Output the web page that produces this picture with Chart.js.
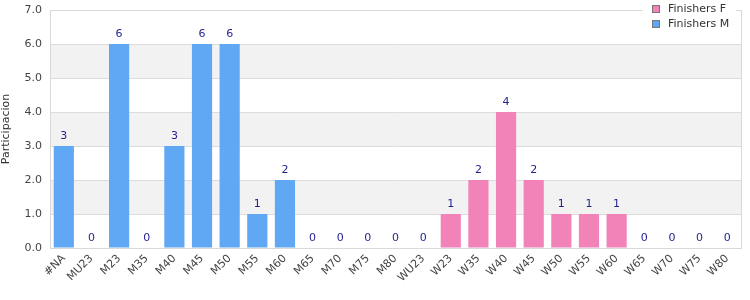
<!DOCTYPE html>
<html>
<head>
<meta charset="utf-8">
<script src="https://cdn.jsdelivr.net/npm/chart.js@4"></script>
<style>
  html, body { margin: 0; padding: 0; background: #fff; }
  #wrap { width: 750px; height: 300px; }
</style>
</head>
<body>
<div id="wrap"><canvas id="GraficoCategorias"></canvas></div>
<script>
var categorias = ["#NA", "MU23", "M23", "M35", "M40", "M45", "M50", "M55", "M60", "M65", "M70", "M75", "M80",
    "WU23", "W23", "W35", "W40", "W45", "W50", "W55", "W60", "W65", "W70", "W75", "W80"];
var finishersM = [3, 0, 6, 0, 3, 6, 6, 1, 2, 0, 0, 0, 0, 0, null, null, null, null, null, null, null, null, null, null, null];
var finishersF = [null, null, null, null, null, null, null, null, null, null, null, null, null, null, 1, 2, 4, 2, 1, 1, 1, 0, 0, 0, 0];
var yTicks = [0, 1, 2, 3, 4, 5, 6, 7];

var fonte = "'DejaVu Sans', Verdana, sans-serif";

// faixas alternadas no fundo e moldura
var fundoPlugin = {
    id: 'fundo',
    beforeDraw: function (chart) {
        var ctx = chart.ctx, a = chart.chartArea, y = chart.scales.y;
        ctx.save();
        ctx.fillStyle = '#f2f2f2';
        for (var i = 1; i < yTicks.length - 1; i += 2) {
            var top = y.getPixelForValue(yTicks[i + 1]);
            var bot = y.getPixelForValue(yTicks[i]);
            ctx.fillRect(a.left, top, a.right - a.left, bot - top);
        }
        ctx.restore();
    },
    afterDraw: function (chart) {
        var ctx = chart.ctx, a = chart.chartArea;
        ctx.save();
        ctx.strokeStyle = '#d9d9d9';
        ctx.lineWidth = 1;
        ctx.strokeRect(Math.round(a.left) + 0.5, Math.round(a.top) + 0.5, Math.round(a.right - a.left), Math.round(a.bottom - a.top));

        // valores em cima das barras
        ctx.font = '11px ' + fonte;
        ctx.fillStyle = '#1f1f8f';
        ctx.textAlign = 'center';
        ctx.textBaseline = 'bottom';
        chart.data.datasets.forEach(function (ds, di) {
            var meta = chart.getDatasetMeta(di);
            meta.data.forEach(function (bar, i) {
                if (ds.data[i] === null) return;
                ctx.fillText(String(ds.data[i]), bar.x, bar.y - 4);
            });
        });

        // legenda no canto
        ctx.fillStyle = '#fff';
        ctx.fillRect(643, 0, 93, 33);
        var itens = [
            { txt: 'Finishers F', cor: '#f283b8' },
            { txt: 'Finishers M', cor: '#60a8f4' }
        ];
        ctx.textAlign = 'left';
        ctx.textBaseline = 'middle';
        itens.forEach(function (it, k) {
            var yy = 9 + k * 15;
            ctx.fillStyle = it.cor;
            ctx.fillRect(652, yy - 4, 8, 8);
            ctx.strokeStyle = '#777';
            ctx.strokeRect(652.5, yy - 3.5, 7, 7);
            ctx.fillStyle = '#333';
            ctx.fillText(it.txt, 668, yy);
        });
        ctx.restore();
    }
};

new Chart(document.getElementById("GraficoCategorias"), {
    type: 'bar',
    data: {
        labels: categorias,
        datasets: [{
            label: "Finishers F",
            data: finishersF,
            backgroundColor: "#f283b8"
        }, {
            label: "Finishers M",
            data: finishersM,
            backgroundColor: "#60a8f4"
        }]
    },
    options: {
        responsive: true,
        maintainAspectRatio: false,
        animation: false,
        layout: { padding: { top: 10, right: 9, left: 0, bottom: 0 } },
        datasets: { bar: { barPercentage: 0.73, categoryPercentage: 1 } },
        plugins: {
            legend: { display: false },
            tooltip: { enabled: false }
        },
        scales: {
            x: {
                stacked: true,
                grid: { display: false, drawTicks: false },
                border: { display: false },
                ticks: {
                    autoSkip: false,
                    maxRotation: 45,
                    minRotation: 45,
                    padding: 4,
                    color: '#444',
                    font: { family: fonte, size: 11 }
                },
                afterFit: function (s) { s.height = 52; s.paddingLeft = 0; s.paddingRight = 0; }
            },
            y: {
                stacked: true,
                min: 0,
                max: 7,
                grid: { color: '#dcdcdc', drawTicks: false },
                border: { display: false },
                ticks: {
                    stepSize: 1,
                    padding: 8,
                    color: '#444',
                    font: { family: fonte, size: 11 },
                    callback: function (v) { return v.toFixed(1); }
                },
                title: {
                    display: true,
                    text: 'Participacion',
                    color: '#333',
                    padding: { top: 0, bottom: 4 },
                    font: { family: fonte, size: 11 }
                },
                afterFit: function (s) { s.width = 50; s.paddingTop = 0; s.paddingBottom = 0; }
            }
        }
    },
    plugins: [fundoPlugin]
});
</script>
</body>
</html>
